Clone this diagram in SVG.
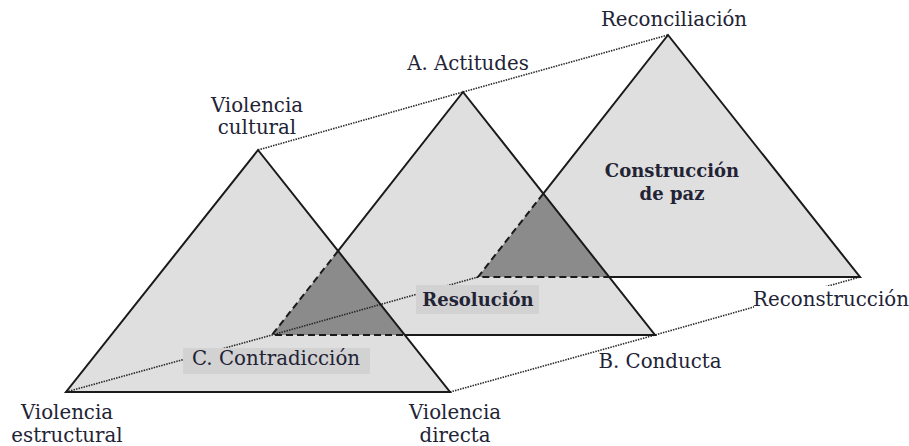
<svg xmlns="http://www.w3.org/2000/svg" width="909" height="446" viewBox="0 0 909 446">
<style>
.tri{fill:#dfdfdf;stroke:none}
.dark{fill:#8b8b8b;stroke:none}
.edge{stroke:#1a1a1a;stroke-width:2;fill:none;stroke-linejoin:miter}
.dash{stroke:#1a1a1a;stroke-width:2;fill:none;stroke-dasharray:7 4}
.dot{stroke:#2a2a2a;stroke-width:1.6;fill:none;stroke-dasharray:1.5 1.1}
.box{fill:#d2d2d2}
text{font-family:"DejaVu Serif","Liberation Serif",serif;font-size:19.8px;fill:#232336;text-anchor:middle}
.b{font-weight:bold;font-size:18px}
</style>
<rect width="909" height="446" fill="#ffffff"/>
<g id="fills">
<polygon class="tri" points="258,150 66,392 450,392"/>
<polygon class="tri" points="463,92 272,335 655,335"/>
<polygon class="tri" points="668,35 478,277 860,277"/>
<polygon class="dark" points="338.1,250.9 272,335 404.8,335"/>
<polygon class="dark" points="543.1,193.8 478,277 609.2,277"/>
</g>
<g id="connectors">
<polyline class="dot" points="258,150 463,92 668,35"/>
<polyline class="dot" points="450,392 655,335 860,277"/>
<polyline class="dot" points="66,392 272,335 478,277"/>
</g>
<g id="triangle-violencia">
<polygon class="edge" points="258,150 66,392 450,392"/>
<text x="257" y="112">Violencia</text>
<text x="257" y="134">cultural</text>
<text x="67" y="419">Violencia</text>
<text x="67" y="442">estructural</text>
<text x="455" y="419">Violencia</text>
<text x="455" y="442">directa</text>
</g>
<g id="triangle-conflicto">
<polyline class="edge" points="338.1,250.9 463,92 655,335 404.8,335"/>
<polyline class="dash" points="338.1,250.9 272,335 404.8,335"/>
<text x="468" y="70">A. Actitudes</text>
<text x="660" y="368">B. Conducta</text>
</g>
<g id="triangle-paz">
<polyline class="edge" points="543.1,193.8 668,35 860,277 609.2,277"/>
<polyline class="dash" points="543.1,193.8 478,277 609.2,277"/>
<text x="674" y="26">Reconciliación</text>
<rect x="754" y="286" width="155" height="28" fill="#ffffff"/>
<text x="831" y="306">Reconstrucción</text>
<text class="b" x="672" y="177">Construcción</text>
<text class="b" x="672" y="200">de paz</text>
</g>
<g id="label-contradiccion">
<rect class="box" x="183" y="348" width="187" height="26"/>
<text x="276" y="365">C. Contradicción</text>
</g>
<g id="label-resolucion">
<rect class="box" x="416" y="285" width="123" height="29"/>
<text class="b" x="478" y="306">Resolución</text>
</g>
</svg>
